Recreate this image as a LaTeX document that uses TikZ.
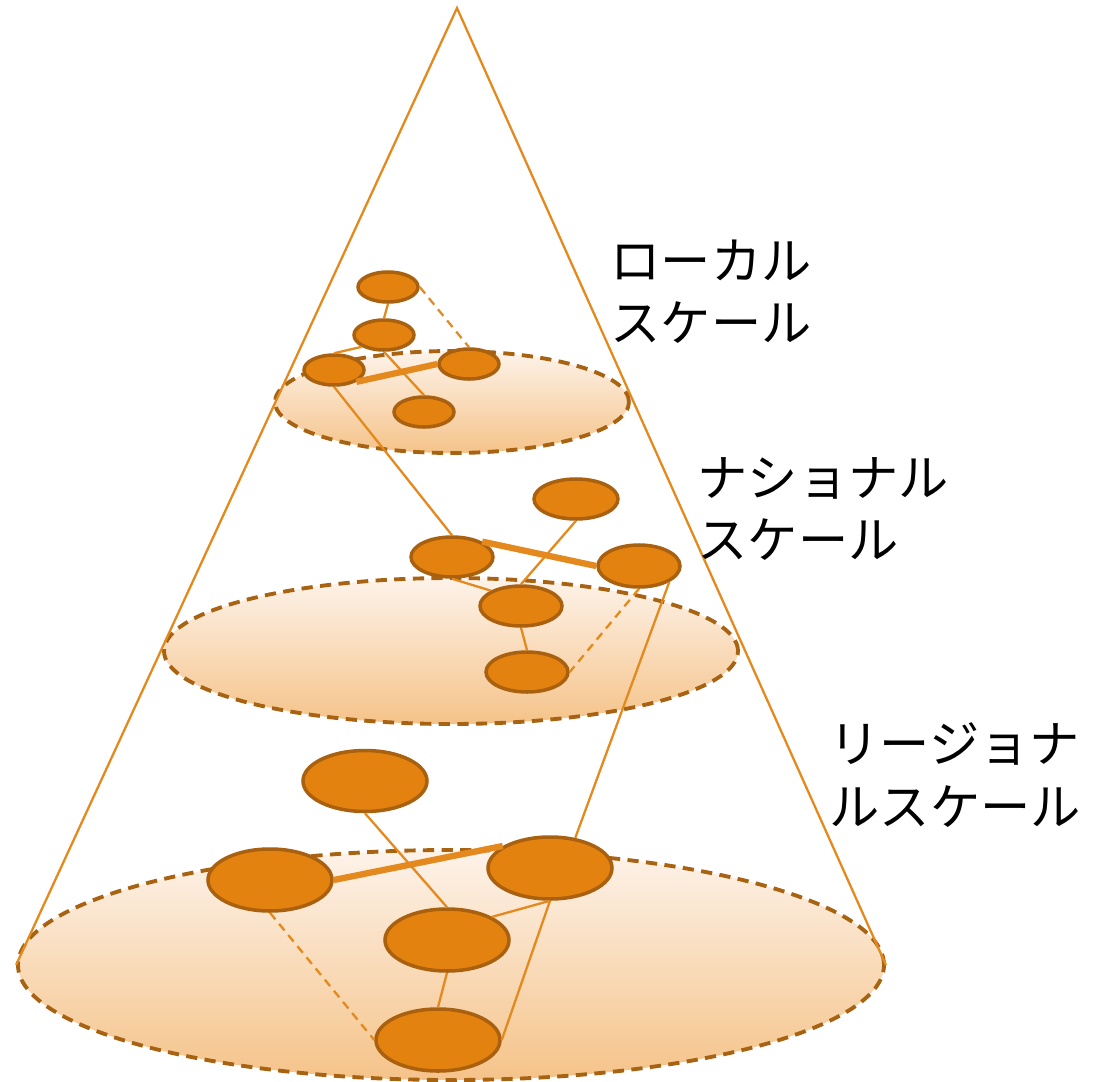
\documentclass[tikz,border=0pt]{standalone}
\usepackage{fontspec}
\newfontfamily\jpfont{Noto Sans CJK JP}
\usepackage{tikz}
\usetikzlibrary{shapes.geometric}
\definecolor{siteorange}{HTML}{E3820F}
\definecolor{siteborder}{HTML}{A9600F}
\definecolor{linkorange}{HTML}{E4891D}
\definecolor{diskborder}{HTML}{A86312}
\definecolor{disktop}{HTML}{FDF3EA}
\definecolor{diskbottom}{HTML}{F5C389}
\tikzset{
  site/.style={ellipse, draw=siteborder, fill=siteorange, line width=1pt, inner sep=0pt},
  layer/.style={ellipse, draw=diskborder, line width=1.1pt, dash pattern=on 3.2pt off 2.1pt, top color=disktop, bottom color=diskbottom, inner sep=0pt},
  link/.style={draw=linkorange, line width=0.65pt},
  strong/.style={draw=linkorange, line width=1.8pt},
  weak/.style={draw=linkorange, line width=0.65pt, dash pattern=on 2.4pt off 1.7pt},
  scaletext/.style={anchor=west, align=left, inner sep=0pt, font=\jpfont\fontsize{14.3}{17.7}\selectfont}
}
\begin{document}
\begin{tikzpicture}[x=1cm,y=-1cm]
    \useasboundingbox (0,0) rectangle (11.02,10.82);
    \coordinate (apex) at (4.57,0.08);
    \node[layer, minimum width=8.66cm, minimum height=2.30cm] (regional) at (4.51,9.65) {};
    \node[layer, minimum width=5.74cm, minimum height=1.46cm] (national) at (4.51,6.51) {};
    \node[layer, minimum width=3.54cm, minimum height=1.02cm] (local) at (4.52,4.02) {};
    \draw[link] (regional.west) -- (apex) -- (regional.east);
    % local
    \node[site, minimum width=0.60cm, minimum height=0.30cm] (L1) at (3.88,2.87) {};
    \node[site, minimum width=0.60cm, minimum height=0.30cm] (L2) at (3.84,3.35) {};
    \node[site, minimum width=0.60cm, minimum height=0.30cm] (L3) at (3.34,3.70) {};
    \node[site, minimum width=0.60cm, minimum height=0.30cm] (L4) at (4.69,3.64) {};
    \node[site, minimum width=0.60cm, minimum height=0.30cm] (L5) at (4.24,4.12) {};
    % national
    \node[site, minimum width=0.82cm, minimum height=0.40cm] (N1) at (4.52,5.57) {};
    \node[site, minimum width=0.84cm, minimum height=0.40cm] (N2) at (5.76,4.99) {};
    \node[site, minimum width=0.82cm, minimum height=0.42cm] (N3) at (6.39,5.66) {};
    \node[site, minimum width=0.82cm, minimum height=0.40cm] (N4) at (5.21,6.06) {};
    \node[site, minimum width=0.82cm, minimum height=0.40cm] (N5) at (5.27,6.72) {};
    % regional
    \node[site, minimum width=1.24cm, minimum height=0.61cm] (R1) at (3.65,7.81) {};
    \node[site, minimum width=1.24cm, minimum height=0.62cm] (R2) at (2.70,8.80) {};
    \node[site, minimum width=1.24cm, minimum height=0.62cm] (R3) at (5.50,8.68) {};
    \node[site, minimum width=1.24cm, minimum height=0.62cm] (R4) at (4.47,9.40) {};
    \node[site, minimum width=1.24cm, minimum height=0.62cm] (R5) at (4.38,10.40) {};
    \draw[link] (L1.south) -- (L2.north);
    \draw[weak] (L1.east) -- (L4.north);
    \draw[link] (L2.south west) -- (L3.north);
    \draw[link] (L2.south) -- (L5.north);
    \draw[strong] (L3.south east) -- (L4.west);
    \draw[link] (L3.south) -- (N1.north);
    \draw[strong] (N1.north east) -- (N3.west);
    \draw[link] (N2.south) -- (N4.north);
    \draw[link] (N1.south) -- (N4.north west);
    \draw[link] (N4.south) -- (N5.north);
    \draw[weak] (N3.south) -- (N5.east);
    \draw[link] (N3.south east) -- (R3.50);
    \draw[strong] (R2.east) -- (R3.155);
    \draw[link] (R1.south) -- (R4.north);
    \draw[link] (R3.south) -- (R4.north east);
    \draw[link] (R3.south) -- (R5.east);
    \draw[link] (R4.south) -- (R5.north);
    \draw[weak] (R2.south) -- (R5.west);
    \node[scaletext] (localname) at (6.10,2.92) {ローカル\\スケール};
    \node[scaletext] (nationalname) at (6.97,5.09) {ナショナル\\スケール};
    \node[scaletext] (regionalname) at (8.29,7.75) {リージョナ\\ルスケール};
\end{tikzpicture}
\end{document}
